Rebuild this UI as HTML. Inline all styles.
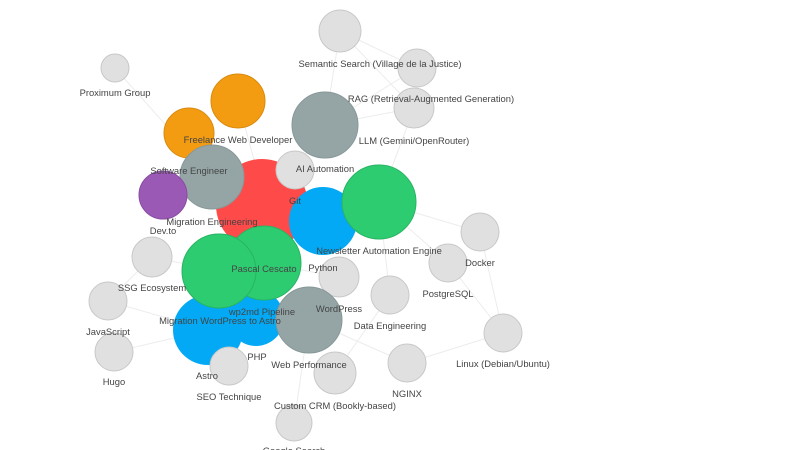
<!DOCTYPE html>
<html><head><meta charset="utf-8"><style>
html,body{margin:0;padding:0;background:#fff;width:800px;height:450px;overflow:hidden}
svg text{font-family:"Liberation Sans",sans-serif;font-size:9.4px;fill:#444;text-anchor:middle}
</style></head><body>
<svg width="800" height="450" viewBox="0 0 800 450" xmlns="http://www.w3.org/2000/svg">
<g stroke="#ececec" stroke-width="1" fill="none">
<line x1="340" y1="31" x2="417" y2="68"/><line x1="340" y1="31" x2="414" y2="108"/><line x1="340" y1="31" x2="325" y2="125"/>
<line x1="417" y1="68" x2="325" y2="125"/><line x1="414" y1="108" x2="325" y2="125"/><line x1="414" y1="108" x2="379" y2="202"/>
<line x1="115" y1="68" x2="212" y2="177"/><line x1="238" y1="101" x2="265" y2="200"/><line x1="295" y1="170" x2="265" y2="200"/>
<line x1="325" y1="125" x2="295" y2="170"/><line x1="379" y1="202" x2="480" y2="232"/><line x1="379" y1="202" x2="448" y2="263"/>
<line x1="379" y1="202" x2="390" y2="295"/><line x1="480" y1="232" x2="503" y2="333"/><line x1="448" y1="263" x2="503" y2="333"/>
<line x1="407" y1="363" x2="503" y2="333"/><line x1="407" y1="363" x2="309" y2="320"/><line x1="335" y1="373" x2="390" y2="295"/>
<line x1="294" y1="423" x2="309" y2="320"/><line x1="152" y1="257" x2="219" y2="271"/><line x1="108" y1="301" x2="208" y2="330"/>
<line x1="114" y1="352" x2="208" y2="330"/><line x1="152" y1="257" x2="108" y2="301"/><line x1="339" y1="277" x2="264" y2="263"/>
<line x1="229" y1="366" x2="264" y2="263"/><line x1="339" y1="277" x2="309" y2="320"/>
</g>
<g stroke="#c8c8c8" stroke-width="1" fill="#e0e0e0">
<circle cx="340" cy="31" r="21"/><circle cx="417" cy="68" r="19"/><circle cx="414" cy="108" r="20"/>
<circle cx="115" cy="68" r="14"/><circle cx="152" cy="257" r="20"/><circle cx="108" cy="301" r="19"/>
<circle cx="114" cy="352" r="19"/><circle cx="339" cy="277" r="20"/><circle cx="390" cy="295" r="19"/>
<circle cx="480" cy="232" r="19"/><circle cx="448" cy="263" r="19"/><circle cx="503" cy="333" r="19"/>
<circle cx="407" cy="363" r="19"/><circle cx="335" cy="373" r="21"/><circle cx="294" cy="423" r="18"/>
</g>
<circle cx="238" cy="101" r="27" fill="#f39c12" stroke="#d98a0e"/>
<circle cx="325" cy="125" r="33" fill="#95a5a6" stroke="#889899"/>
<circle cx="189" cy="133" r="25" fill="#f39c12" stroke="#d98a0e"/>
<circle cx="262" cy="205" r="46" fill="#ff4a4a"/>
<circle cx="212" cy="177" r="32" fill="#95a5a6" stroke="#889899"/>
<circle cx="163" cy="195" r="24" fill="#9b59b6" stroke="#8a4ca3"/>
<circle cx="295" cy="170" r="19" fill="#e0e0e0" stroke="#c8c8c8"/>
<circle cx="323" cy="221" r="34" fill="#03a9f4"/>
<circle cx="379" cy="202" r="37" fill="#2ecc71" stroke="#27b463"/>
<circle cx="208" cy="330" r="35" fill="#03a9f4"/>
<circle cx="256" cy="318" r="28" fill="#03a9f4"/>
<circle cx="264" cy="263" r="37" fill="#2ecc71" stroke="#27b463"/>
<circle cx="219" cy="271" r="37" fill="#2ecc71" stroke="#27b463"/>
<circle cx="309" cy="320" r="33" fill="#95a5a6" stroke="#889899"/>
<circle cx="229" cy="366" r="19" fill="#e0e0e0" stroke="#c8c8c8"/>
<g>
<text x="380" y="67">Semantic Search (Village de la Justice)</text>
<text x="431" y="102">RAG (Retrieval-Augmented Generation)</text>
<text x="414" y="144">LLM (Gemini/OpenRouter)</text>
<text x="115" y="96">Proximum Group</text>
<text x="238" y="143">Freelance Web Developer</text>
<text x="189" y="174">Software Engineer</text>
<text x="325" y="172">AI Automation</text>
<text x="295" y="204">Git</text>
<text x="212" y="225">Migration Engineering</text>
<text x="163" y="234">Dev.to</text>
<text x="379" y="254">Newsletter Automation Engine</text>
<text x="480" y="266">Docker</text>
<text x="264" y="272">Pascal Cescato</text>
<text x="323" y="271">Python</text>
<text x="152" y="291">SSG Ecosystem</text>
<text x="448" y="297">PostgreSQL</text>
<text x="262" y="315">wp2md Pipeline</text>
<text x="339" y="312">WordPress</text>
<text x="220" y="324">Migration WordPress to Astro</text>
<text x="108" y="335">JavaScript</text>
<text x="390" y="329">Data Engineering</text>
<text x="257" y="360">PHP</text>
<text x="309" y="368">Web Performance</text>
<text x="503" y="367">Linux (Debian/Ubuntu)</text>
<text x="207" y="379">Astro</text>
<text x="114" y="385">Hugo</text>
<text x="407" y="397">NGINX</text>
<text x="229" y="400">SEO Technique</text>
<text x="335" y="409">Custom CRM (Bookly-based)</text>
<text x="294" y="454">Google Search</text>
</g>
</svg>
</body></html>
